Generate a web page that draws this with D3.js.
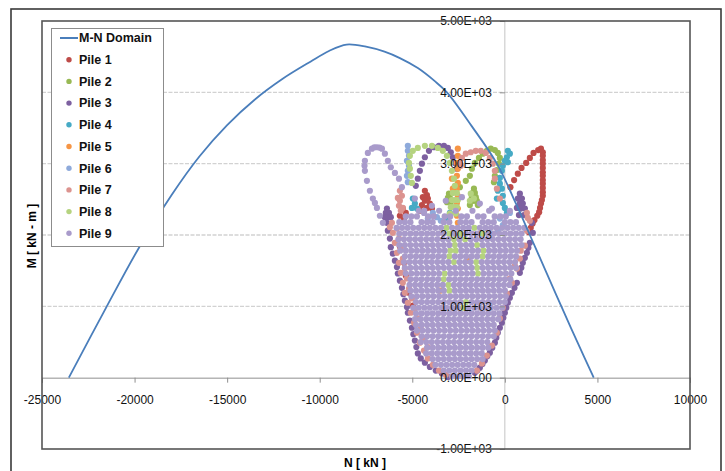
<!DOCTYPE html>
<html>
<head>
<meta charset="utf-8">
<script src="https://cdn.jsdelivr.net/npm/d3@7"></script>
<style>
body { margin: 0; background: #fff; }
text { font-family: "Liberation Sans", Arial, sans-serif; }
</style>
</head>
<body>
<div id="chart-area"></div>
<script>
// M-N interaction domain (N in kN, M in kN*m)
const mnN = [-23550, -21500, -19700, -18000, -16500, -15000, -13500, -12000, -10500, -9500, -8550, -7500, -6500, -5670, -4700, -3800, -3130, -1800, -430, 600, 1350, 2300, 3100, 3950, 4800];
const mnM = [0, 1000, 1850, 2560, 3100, 3540, 3900, 4190, 4430, 4580, 4670, 4640, 4570, 4480, 4340, 4160, 4000, 3530, 3000, 2440, 2000, 1440, 970, 480, 0];

const xTicks = [-25000, -20000, -15000, -10000, -5000, 0, 5000, 10000];
const yTicks = [-1000, 0, 1000, 2000, 3000, 4000, 5000];
const yTickLabels = ['-1.00E+03', '0.00E+00', '1.00E+03', '2.00E+03', '3.00E+03', '4.00E+03', '5.00E+03'];
const gridValues = [1000, 2000, 3000, 4000];

const seriesNames = ['M-N Domain', 'Pile 1', 'Pile 2', 'Pile 3', 'Pile 4', 'Pile 5', 'Pile 6', 'Pile 7', 'Pile 8', 'Pile 9'];
const seriesColors = ['#4a7ebb', '#be4b48', '#98b954', '#7d60a0', '#46aac5', '#f69545', '#8eaadb', '#dc938f', '#b5d37f', '#a99bcb'];

// piles: [N, M] pairs
const pile1 = [[300,2670],[500,2770],[700,2860],[900,2940],[1150,3010],[1350,3080],[1550,3150],[1800,3190],[1950,3210],[2050,3160],
  [2050,3110],[2050,3050],[2050,3000],[2050,2940],[2050,2880],[2050,2830],[2050,2770],[2050,2720],[2050,2660],[2050,2600],
  [2050,2550],[2000,2490],[1950,2440],[1900,2380],[1850,2320],[1750,2270],[1600,2210],[1500,2160],[1400,2100],[1300,2040],
  [-4320,2620],[-4210,2560],[-4430,2530],[-4160,2510],[-4320,2480],[-4050,2440],[-4480,2420],[-4210,2380],[-3940,2370],[-4590,2340],
  [-5510,2370],[-5350,2310],[-5670,2270],[-5450,2230],
  [-5670,1840],[-5450,1610],[-5350,1430],[-5180,1190],[-4970,1010]];

const pile2 = [[-1890,2830],[-1780,2930],[-1620,3010],[-1400,3080],[-1190,3140],[-970,3180],[-760,3210],[-540,3190],[-380,3150],
  [-270,3080],[-320,3000],[-430,2910],[-540,2830],[-590,2740],
  [-1670,2650],[-1730,2590],[-1620,2590],[-1780,2530],[-1670,2530],[-1570,2530],[-1840,2480],[-1730,2480],[-1620,2480],
  [-1510,2480],[-1890,2420],[-1460,2420],
  [-3020,2580],[-3080,2520],[-2970,2520],[-3130,2460],[-2920,2460],[-2110,2760],[-2430,2670]];

const pile3 = [[-4810,2690],[-4700,2790],[-4590,2900],[-4480,3000],[-4320,3090],[-4100,3180],[-3830,3230],[-3560,3250],[-3290,3250],
  [-3080,3220],[-2920,3160],[-2810,3090],[-2700,3010],[-2590,2930],
  [810,2580],[700,2510],[920,2510],[810,2440],[970,2440],[650,2380],[860,2370],[1080,2370],[1030,2280],[760,2280],
  [-6370,2370],[-6430,2310],[-6260,2310],[-6480,2250],[-6320,2250],[-6160,2250],
  [-6370,2170],[-6320,2060],[-6210,1950],[-6160,1830],[-6050,1740],[-5940,1640],[-5830,1550],[-5780,1460],[-5670,1360],
  [-5560,1260],[-5480,1170],[-5400,1080],[-5290,990],[-5240,910],[-5130,800],[-5020,700],[-4940,610],[-4860,520],[-4780,430],
  [-4700,340],[-4540,270],[-4320,210],[-4050,150],[-3730,100],[-3400,60],[-3080,10],
  [1510,2030],[1460,2170],[1350,1890],[1270,1820],[1190,1750],[1080,1680],[970,1610],[890,1540],[810,1470],[650,1330],
  [520,1260],[380,1190],[270,1120],[160,1050],[80,980],[0,910],[-80,840],[-160,770],[-270,700],[-380,630],[-460,560],
  [-540,490],[-680,420],[-810,350],[-950,300],[-1080,240],[-1210,190],[-1350,140],[-1490,100],[-1620,70]];

const pile4 = [[160,3180],[270,3140],[110,3090],[0,3040],[160,3020],[-110,2970],[-160,2900],[-270,2800],[-270,2720],[-380,2620],
  [-160,2650],[-110,2550],[-430,2510],[-110,2450],[0,2380],[110,2310],
  [-4970,2510],[-4860,2440],[-4750,2370],[-5020,2380],[-2970,2310],[-3130,2240]];

const pile5 = [[-2540,3210],[-2540,3110],[-2590,3010],[-2540,2930],[-2590,2830],[-2540,2730],[-2590,2650],[-2540,2550],
  [-2590,2450],[-2540,2370],[-2590,2270],[-2540,2170],[-2860,2790],[-2810,2650],[-2000,1640],[-3510,1220]];

const pile6 = [[-5240,3250],[-5240,3180],[-5180,3110],[-5290,3040],[-5180,2970],[-5240,2900],[-5290,2830],[-5240,2740],
  [-3890,2310],[-3670,2250],[-3460,2200],[-4160,2230],[-270,2230],[-110,2140],[-380,2060],[270,2310]];

const pile7 = [[-6100,2170],[-6050,2030],[-5940,1890],[-5830,1750],[-5720,1610],[-5620,1470],[-5510,1330],[-5400,1190],
  [-5240,1050],[-5080,910],[-4910,770],[-4750,630],[-4590,490],[-4370,380],[-4160,270],[-3890,180],[-3560,100],[-3190,40],
  [-5830,2090],[-5720,1950],[-5620,1810],[-5510,1670],[-5400,1530],[-5290,1390],[-5180,1250],[-5020,1110],[-4860,970],
  [-4700,830],[-4540,690],[-4370,550],[-4160,430],[-6210,2110],
  [-5780,2520],[-5670,2480],[-5560,2550],[-5720,2410],[-5510,2380],[-5670,2620],[-5620,2340],
  [-2430,3000],[-2380,2970],[-2320,3080],[-2110,3140],[-1840,3160],[-1570,3180],[-1300,3180],[-1030,3150],[-810,3080],
  [-650,3000],[-540,2900],[-540,2790],[-430,2650],[-270,2510],
  [1080,1850],[810,1670],[650,1530],[380,1330],[110,1180],[-110,980],[-270,830],[-430,630],[-700,450],[-970,310],
  [-1240,200],[-1510,100],[1350,2200],[1190,2060],[1190,2310],[1240,2240],[860,1780],[540,1570],[270,1390]];

const pile8 = [[-5020,2730],[-5080,2830],[-5130,2930],[-5180,3010],[-5130,3110],[-4970,3180],[-4700,3220],[-4320,3250],
  [-3940,3250],[-3620,3220],[-3350,3180],[-3130,3110],[-2970,3010],[-2860,2900],[-2750,2790],
  [-2700,2690],[-2810,2590],[-2590,2590],[-2860,2490],[-2700,2490],[-2540,2490],[-2920,2390],[-2750,2390],[-2590,2390],
  [-2970,2300],[-2650,2300],[-1840,2580],[-1670,2510],[-1890,2480],
  [-2250,980],[-2100,1060],[-3000,1220],[-3050,1300],[-3300,1380],[-3250,1460],[-1450,1460],[-1500,1540],[-2750,1620],
  [-1550,1620],[-3000,1700],[-1200,1700],[-2950,1780],[-2650,1780],[-1150,1780],[-2700,1860],[-1500,1860],[-2750,1940],
  [-2150,1940],[-3000,2020],[-2400,2020],[-1200,2020],[-3150,2100],[-1650,2100]];

const pile9Loop = [[-6590,2170],[-6750,2270],[-6910,2380],[-7020,2450],[-7130,2510],
  [-7290,2620],[-7450,2760],[-7560,2900],[-7580,2970],[-7560,3040],[-7400,3150],
  [-7180,3210],[-7050,3230],[-6910,3230],[-6770,3225],[-6640,3210],[-6480,3140],
  [-6320,3040],[-6160,2950],[-5940,2870],[-5720,2790],[-5560,2670],
  [-4860,2510],[-3940,2410],[-3190,2480],[-2320,2530],[-1350,2440],[-700,2370],[270,2340],[-4370,2310]];

// pile 9 body: [M, list of N]
const pile9Rows = [
  [20, [-2850,-2550,-2250,-1950]],
  [100, [-3300,-3000,-2700,-2400,-2100,-1800]],
  [180, [-3750,-3450,-3150,-2850,-2550,-2250,-1950,-1650]],
  [260, [-3900,-3600,-3300,-3000,-2700,-2400,-2100,-1800,-1500,-1200]],
  [340, [-4250,-3950,-3650,-3350,-3050,-2750,-2450,-2150,-1850,-1550,-1250]],
  [420, [-4200,-3900,-3600,-3300,-3000,-2700,-2400,-2100,-1800,-1500,-1200,-900]],
  [500, [-4550,-4250,-3950,-3650,-3350,-3050,-2750,-2450,-2150,-1850,-1550,-1250,-950]],
  [580, [-4500,-4200,-3900,-3600,-3300,-3000,-2700,-2400,-2100,-1800,-1500,-1200,-900,-600]],
  [660, [-4750,-4450,-4150,-3850,-3550,-3250,-2950,-2650,-2350,-2050,-1750,-1450,-1150,-850,-550]],
  [740, [-4800,-4500,-4200,-3900,-3600,-3300,-3000,-2700,-2400,-2100,-1800,-1500,-1200,-900,-600]],
  [820, [-4850,-4550,-4250,-3950,-3650,-3350,-3050,-2750,-2450,-2150,-1850,-1550,-1250,-950,-650,-350]],
  [900, [-4800,-4500,-4200,-3900,-3600,-3300,-3000,-2700,-2400,-2100,-1800,-1500,-1200,-900,-600,-300]],
  [980, [-4950,-4650,-4350,-4050,-3750,-3450,-3150,-2850,-2550,-1950,-1650,-1350,-1050,-750,-450,-150]],
  [1060, [-4800,-4500,-4200,-3900,-3600,-3300,-3000,-2700,-2400,-1800,-1500,-1200,-900,-600,-300,0]],
  [1140, [-5050,-4750,-4450,-4150,-3850,-3550,-3250,-2950,-2650,-2350,-2050,-1750,-1450,-1150,-850,-550,-250,50]],
  [1220, [-5100,-4800,-4500,-4200,-3900,-3600,-3300,-2700,-2400,-2100,-1800,-1500,-1200,-900,-600,-300,0]],
  [1300, [-5150,-4850,-4550,-4250,-3950,-3650,-3350,-2750,-2450,-2150,-1850,-1550,-1250,-950,-650,-350,-50,250]],
  [1380, [-5100,-4800,-4500,-4200,-3900,-3600,-3000,-2700,-2400,-2100,-1800,-1500,-1200,-900,-600,-300,0,300]],
  [1460, [-5350,-5050,-4750,-4450,-4150,-3850,-3550,-2950,-2650,-2350,-2050,-1750,-1150,-850,-550,-250,50,350]],
  [1540, [-5400,-5100,-4800,-4500,-4200,-3900,-3600,-3300,-3000,-2700,-2400,-2100,-1800,-1200,-900,-600,-300,0,300,600]],
  [1620, [-5450,-5150,-4850,-4550,-4250,-3950,-3650,-3350,-3050,-2450,-2150,-1850,-1250,-950,-650,-350,-50,250,550]],
  [1700, [-5400,-5100,-4800,-4500,-4200,-3900,-3600,-3300,-2700,-2400,-2100,-1800,-1500,-900,-600,-300,0,300,600]],
  [1780, [-5650,-5350,-5050,-4750,-4450,-4150,-3850,-3550,-3250,-2350,-2050,-1750,-1450,-850,-550,-250,50,350,650]],
  [1860, [-5700,-5400,-5100,-4800,-4500,-4200,-3900,-3600,-3300,-3000,-2400,-2100,-1800,-1200,-900,-600,-300,0,300,600,900]],
  [1940, [-5750,-5450,-5150,-4850,-4550,-4250,-3950,-3650,-3350,-3050,-2450,-1850,-1550,-1250,-950,-650,-350,-50,250,550,850]],
  [2020, [-5700,-5400,-5100,-4800,-4500,-4200,-3900,-3600,-3300,-2700,-2100,-1800,-1500,-900,-600,-300,0,300,600,900]],
  [2100, [-5850,-5550,-5250,-4950,-4650,-4350,-4050,-3750,-3450,-2850,-2550,-2250,-1950,-1350,-1050,-750,-450,-150,150,450,750,1050]],
  [2180, [-5700,-5400,-5100,-4500,-4200,-3900,-3300,-3000,-2400,-2100,-1800,-1200,-900,-600,0,300,600]],
  [2260, [-5350,-5050,-4750,-4150,-3850,-3250,-2950,-2350,-2050,-1450,-1150,-550,-250,50]],
  [2340, [-4650,-4350,-3550,-2650,-1750,-850]]
];

const pile9 = pile9Loop.concat(pile9Rows.flatMap(([m, ns]) => ns.map(n => [n, m])));
const piles = [pile1, pile2, pile3, pile4, pile5, pile6, pile7, pile8, pile9];

const W = 725, H = 471;
const plot = {left: 42, right: 690, top: 21, bottom: 449};

const svg = d3.select('#chart-area')
  .append('svg')
    .attr('width', W)
    .attr('height', H);

svg.append('rect').attr('width', W).attr('height', H).attr('fill', '#fff');

// outer chart frame
svg.append('rect')
  .attr('x', 11).attr('y', 9)
  .attr('width', 710).attr('height', 490)
  .attr('fill', 'none')
  .attr('stroke', '#3a3a3a')
  .attr('stroke-width', 1.6);

const x = d3.scaleLinear().domain([-25000, 10000]).range([plot.left, plot.right]);
const y = d3.scaleLinear().domain([-1000, 5000]).range([plot.bottom, plot.top]);

// gridlines
svg.selectAll('.grid')
  .data(gridValues)
  .enter().append('line')
    .attr('class', 'grid')
    .attr('x1', plot.left).attr('x2', plot.right)
    .attr('y1', d => y(d)).attr('y2', d => y(d))
    .attr('stroke', '#d2d2d2')
    .attr('stroke-width', 1.3)
    .attr('stroke-dasharray', '4,1.5');

// vertical axis line at N = 0
svg.append('line')
  .attr('x1', x(0)).attr('x2', x(0))
  .attr('y1', plot.top).attr('y2', plot.bottom)
  .attr('stroke', '#c4c4c4');

// x axis at M = 0
const xAxis = svg.append('g')
  .attr('transform', `translate(0, ${y(0)})`)
  .call(d3.axisBottom(x).tickValues(xTicks).tickSize(5).tickPadding(13).tickFormat(d => d));
xAxis.select('.domain').attr('stroke', '#8f8f8f');
xAxis.selectAll('.tick line').attr('stroke', '#8f8f8f');
xAxis.selectAll('text').attr('font-size', '12px').attr('fill', '#111');

// pile scatter points
piles.forEach((pts, i) => {
  svg.append('g')
    .selectAll('circle')
    .data(pts)
    .enter().append('circle')
      .attr('cx', d => x(d[0]))
      .attr('cy', d => y(d[1]))
      .attr('r', 3.1)
      .attr('fill', seriesColors[i + 1]);
});

// M-N domain curve
const mnData = mnN.map((n, i) => [n, mnM[i]]);
svg.append('path')
  .datum(mnData)
  .attr('fill', 'none')
  .attr('stroke', seriesColors[0])
  .attr('stroke-width', 1.8)
  .attr('d', d3.line().x(d => x(d[0])).y(d => y(d[1])).curve(d3.curveCatmullRom.alpha(0.5)));

// y axis labels (drawn over the points)
const yAxis = svg.append('g')
  .attr('transform', `translate(${x(0)}, 0)`)
  .call(d3.axisLeft(y).tickValues(yTicks).tickSize(5).tickPadding(8).tickFormat((d, i) => yTickLabels[i]));
yAxis.select('.domain').remove();
yAxis.selectAll('.tick line').attr('stroke', '#8f8f8f');
yAxis.selectAll('text').attr('font-size', '12px').attr('fill', '#111');

// plot area border
svg.append('rect')
  .attr('x', plot.left).attr('y', plot.top)
  .attr('width', plot.right - plot.left).attr('height', plot.bottom - plot.top)
  .attr('fill', 'none')
  .attr('stroke', '#555')
  .attr('stroke-width', 1.6);

// axis titles
svg.append('text')
  .attr('x', 365).attr('y', 467)
  .attr('text-anchor', 'middle')
  .attr('font-size', '12px')
  .attr('font-weight', 'bold')
  .text('N [ kN ]');

svg.append('text')
  .attr('transform', 'translate(36, 236) rotate(-90)')
  .attr('text-anchor', 'middle')
  .attr('font-size', '12px')
  .attr('font-weight', 'bold')
  .text('M [ kN - m ]');

// legend
const legend = svg.append('g');
legend.append('rect')
  .attr('x', 51.5).attr('y', 28.5)
  .attr('width', 112).attr('height', 218)
  .attr('fill', '#fff')
  .attr('stroke', '#8c8c8c');

seriesNames.forEach((name, i) => {
  const ly = 38 + i * 21.7;
  if (i === 0) {
    legend.append('line')
      .attr('x1', 60).attr('x2', 78)
      .attr('y1', ly).attr('y2', ly)
      .attr('stroke', seriesColors[0])
      .attr('stroke-width', 2);
  } else {
    legend.append('circle')
      .attr('cx', 69).attr('cy', ly)
      .attr('r', 2.7)
      .attr('fill', seriesColors[i]);
  }
  legend.append('text')
    .attr('x', 79).attr('y', ly)
    .attr('dy', '0.35em')
    .attr('font-size', '12.5px')
    .attr('font-weight', 'bold')
    .attr('fill', '#111')
    .text(name);
});
</script>
</body>
</html>
